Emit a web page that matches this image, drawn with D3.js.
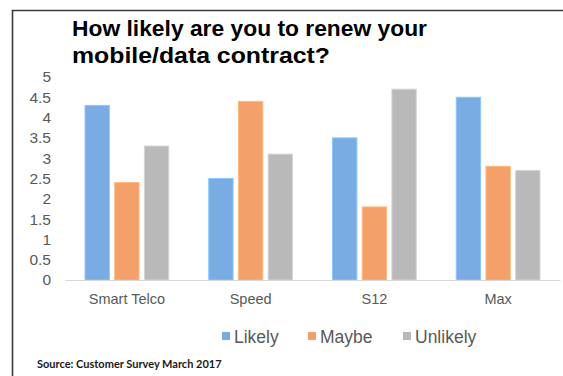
<!DOCTYPE html>
<html>
<head>
<meta charset="utf-8">
<script src="https://cdn.jsdelivr.net/npm/d3@7"></script>
<style>
  html, body { margin: 0; padding: 0; background: #fff; }
  svg { display: block; }
</style>
</head>
<body>
<svg id="chart" width="563" height="376"></svg>
<script>
// Survey data: likelihood of renewing a mobile/data contract
const brands = ["Smart Telco", "Speed", "S12", "Max"];
const seriesNames = ["Likely", "Maybe", "Unlikely"];
const likely = [4.3, 2.5, 3.5, 4.5];
const maybe = [2.4, 4.4, 1.8, 2.8];
const unlikely = [3.3, 3.1, 4.7, 2.7];
const yTicks = [0, 0.5, 1, 1.5, 2, 2.5, 3, 3.5, 4, 4.5, 5];
const colors = ["#79ace2", "#f4a06b", "#b9b9b9"];

const seriesValues = [likely, maybe, unlikely];

const svg = d3.select("#chart");

// outer frame
svg.append("path")
  .attr("d", "M12.5,400 V10.5 H600")
  .attr("fill", "none")
  .attr("stroke", "#3a3a3a")
  .attr("stroke-width", 1.6);

// title, two lines
const titleLines = [
  { text: "How likely are you to renew your", y: 36, w: 355 },
  { text: "mobile/data contract?", y: 63, w: 258 }
];
svg.append("g").selectAll("text")
  .data(titleLines)
  .join("text")
  .attr("x", 72)
  .attr("y", d => d.y)
  .attr("textLength", d => d.w)
  .attr("lengthAdjust", "spacingAndGlyphs")
  .attr("font-family", "Liberation Sans, Arial, sans-serif")
  .attr("font-weight", "bold")
  .attr("font-size", 22.5)
  .attr("fill", "#000")
  .text(d => d.text);

const plotLeft = 65, plotRight = 560, plotTop = 77, plotBottom = 280;

const x0 = d3.scaleBand().domain(brands).range([plotLeft, plotRight]).paddingInner(0).paddingOuter(0);
const x1 = d3.scaleBand().domain(seriesNames).range([20, x0.bandwidth() - 20]).paddingInner(0.18).paddingOuter(0);
const y = d3.scaleLinear().domain([0, 5]).range([plotBottom, plotTop]);

// y axis (labels only)
const yAxis = d3.axisLeft(y).tickValues(yTicks).tickSize(0).tickPadding(0).tickFormat(d3.format("~g"));
const yG = svg.append("g").attr("transform", "translate(51,0)").call(yAxis);
yG.select(".domain").remove();
yG.selectAll("text")
  .attr("font-family", "Liberation Sans, Arial, sans-serif")
  .attr("font-size", 15.5)
  .attr("fill", "#595959");

// bars
const groups = svg.append("g").selectAll("g")
  .data(brands)
  .join("g")
  .attr("transform", d => `translate(${x0(d)},0)`);

groups.selectAll("rect")
  .data((d, i) => seriesNames.map((s, j) => ({ s, v: seriesValues[j][i], c: colors[j] })))
  .join("rect")
  .attr("x", d => x1(d.s))
  .attr("y", d => y(d.v))
  .attr("width", x1.bandwidth())
  .attr("height", d => y(0) - y(d.v))
  .attr("fill", d => d.c)
  .attr("stroke", d => d3.color(d.c).brighter(0.4))
  .attr("stroke-width", 1);

// x axis
const xAxis = d3.axisBottom(x0).tickSize(0).tickPadding(14);
const xG = svg.append("g").attr("transform", `translate(0,${plotBottom})`).call(xAxis);
xG.select(".domain").attr("stroke", "#d9d9d9").attr("stroke-width", 1.2);
xG.selectAll("text")
  .attr("font-family", "Liberation Sans, Arial, sans-serif")
  .attr("font-size", 14.5)
  .attr("fill", "#595959");

// legend
const legendX = [222, 308, 403];
const legend = svg.append("g").selectAll("g")
  .data(seriesNames)
  .join("g")
  .attr("transform", (d, i) => `translate(${legendX[i]},343)`);
legend.append("rect")
  .attr("x", 0).attr("y", -11).attr("width", 8).attr("height", 8)
  .attr("fill", (d, i) => colors[i]);
legend.append("text")
  .attr("x", 12)
  .attr("font-family", "Liberation Sans, Arial, sans-serif")
  .attr("font-size", 17.5)
  .attr("fill", "#595959")
  .text(d => d);

// source note
svg.append("text")
  .attr("x", 37).attr("y", 368)
  .attr("font-family", "Lato, Open Sans, sans-serif")
  .attr("font-weight", "bold")
  .attr("font-size", 11)
  .attr("fill", "#1a1a1a")
  .text("Source: Customer Survey March 2017");
</script>
</body>
</html>
